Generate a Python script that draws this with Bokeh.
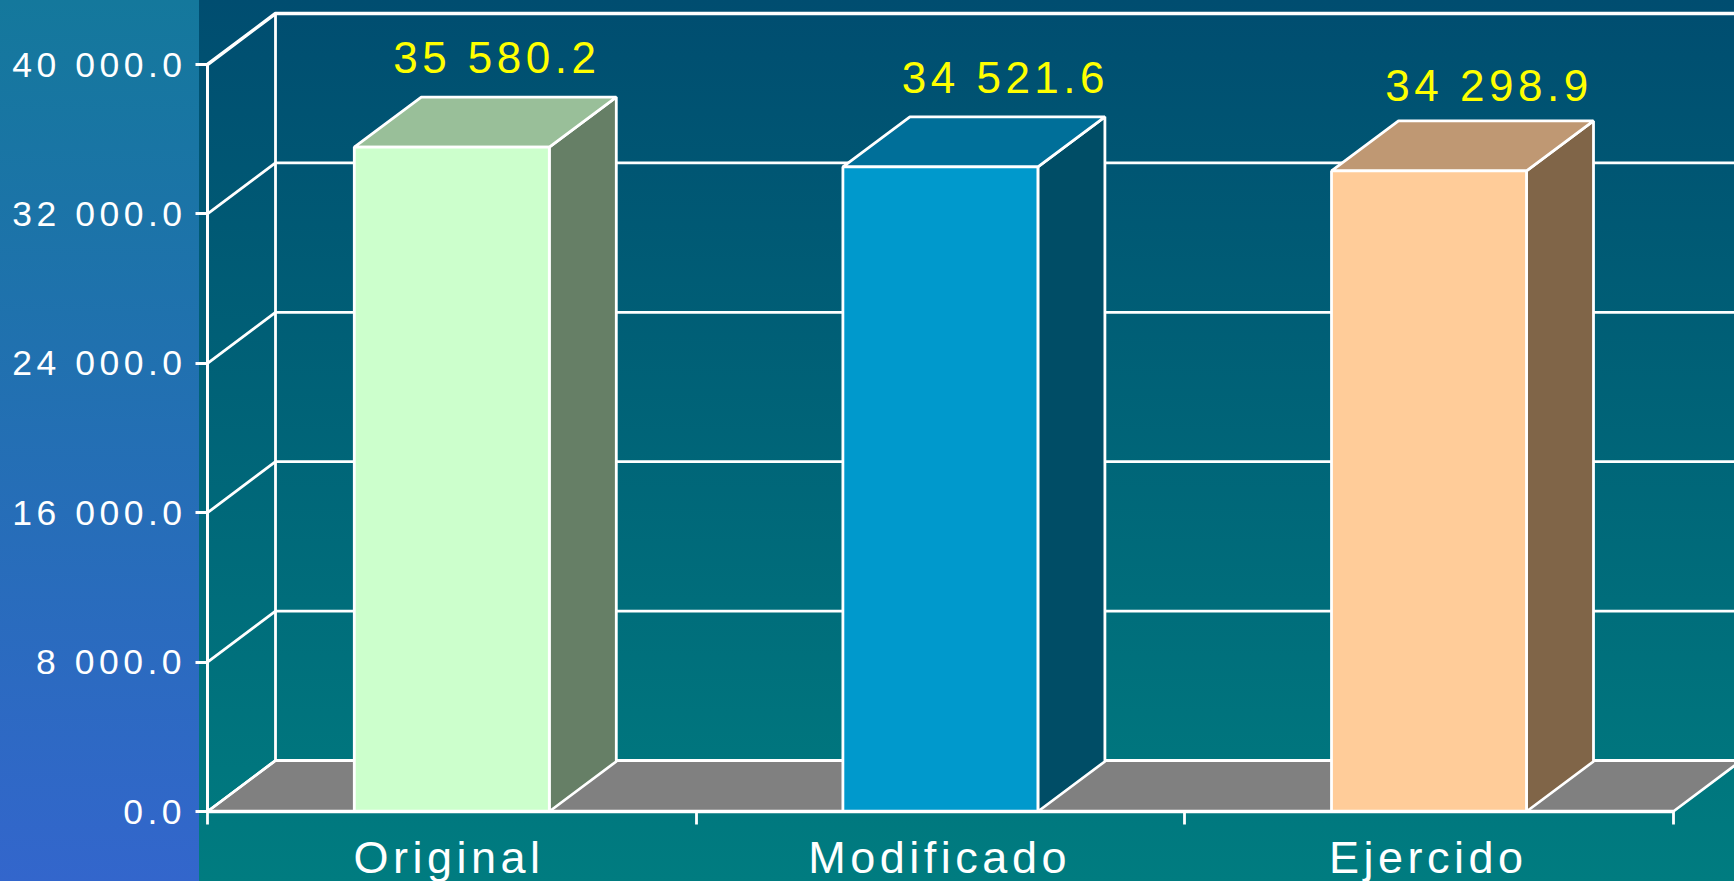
from bokeh.plotting import figure
from bokeh.models import LinearAxis, FixedTicker, Range1d
from bokeh.core.properties import value
from bokeh.embed import file_html
from bokeh.resources import INLINE

categories = ["Original", "Modificado", "Ejercido"]
amounts = [35580.2, 34521.6, 34298.9]
label_texts = ["35 580.2", "34 521.6", "34 298.9"]
y_ticks = [0, 8000, 16000, 24000, 32000, 40000]
y_tick_labels = ["0.0", "8 000.0", "16 000.0", "24 000.0", "32 000.0", "40 000.0"]
front_colors = ["#ccffcc", "#0099cc", "#ffcc99"]
top_colors = ["#99bf99", "#006f99", "#bf9873"]
side_colors = ["#667f66", "#004d66", "#806548"]

W, H = 1734, 881
X0, XU = 207.0, 488.6
Y0, YU = 811.0, 747.0 / 40000
FONT = "Liberation Sans"
SPACING = 4.5  # letter spacing, px; the browser adds it after the text is measured

p = figure(width=W, height=H, output_backend="svg", toolbar_location=None,
           x_axis_type=None, y_axis_type=None, min_border=0,
           x_range=Range1d(-X0 / XU, (W - X0) / XU),
           y_range=Range1d((Y0 - H) / YU, Y0 / YU))
p.grid.visible = False
p.outline_line_color = None
p.background_fill_alpha = 0
p.border_fill_alpha = 0
p.styles = {
    "letter-spacing": f"{SPACING}px",
    "background": "linear-gradient(#14789c,#3366cc) 0 0/199px 100% no-repeat,"
                  "linear-gradient(#004d70,#007c80)",
}

# depth of the box, in axis units
wall_dx = 68.0 / XU
wall_dy = 51.0 / YU
bar_dx = 67.0 / XU
bar_dy = 50.0 / YU
bar_half = 97.5 / XU
top_value = y_ticks[-1]
n = len(categories)
LW = 2.8

# floor
p.patch([0, wall_dx, n + wall_dx, n], [0, wall_dy, wall_dy, 0],
        fill_color="#808080", line_color="white", line_width=LW)

# walls
for t in y_ticks:
    w = 3.5 if t == top_value else LW
    p.line([0, wall_dx, n + wall_dx], [t, t + wall_dy, t + wall_dy],
           line_color="white", line_width=w)
p.line([wall_dx, wall_dx], [wall_dy, top_value + wall_dy], line_color="white", line_width=LW)

# bars
for i, v in enumerate(amounts):
    c = i + 0.5
    l, r = c - bar_half, c + bar_half
    p.patch([r, r + bar_dx, r + bar_dx, r], [0, bar_dy, v + bar_dy, v],
            fill_color=side_colors[i], line_color="white", line_width=LW)
    p.patch([l, r, r + bar_dx, l + bar_dx], [v, v, v + bar_dy, v + bar_dy],
            fill_color=top_colors[i], line_color="white", line_width=LW)
    p.quad(left=[l], right=[r], bottom=[0], top=[v],
           fill_color=front_colors[i], line_color="white", line_width=LW)

label_dx = [27, 47, 42]
label_dy = [40, 39, 35]
p.text(x=[i + 0.5 + label_dx[i] / XU for i in range(n)],
       y=[v + bar_dy + label_dy[i] / YU for i, v in enumerate(amounts)],
       text=label_texts, text_color="#ffff00", text_font=value(FONT),
       text_font_size="44px", text_align="center", text_baseline="middle")

# value axes: one per label length, since each needs its own standoff
for k, length in enumerate(sorted({len(s) for s in y_tick_labels})):
    pairs = [(t, s) for t, s in zip(y_ticks, y_tick_labels) if len(s) == length]
    ya = LinearAxis(ticker=FixedTicker(ticks=[t for t, _ in pairs]), fixed_location=0,
                    major_label_overrides=dict(pairs), bounds=(0, top_value))
    ya.axis_line_color = "white"
    ya.axis_line_width = LW
    ya.major_tick_line_color = "white"
    ya.major_tick_line_width = LW
    ya.major_tick_out = 12
    ya.major_tick_in = 0
    ya.minor_tick_line_color = None
    ya.major_label_standoff = 14 + int((length - 1) * SPACING)
    ya.major_label_text_color = "white"
    ya.major_label_text_font = FONT
    ya.major_label_text_font_size = "35.5px"
    p.add_layout(ya, "left")

# category axis: boundary ticks as minor ticks, labels on shifted major ticks
cat_nudge = [-5, -3, -3]
cat_pos = [i + 0.5 + (cat_nudge[i] - (len(c) - 1) * SPACING / 2) / XU
           for i, c in enumerate(categories)]
xa = LinearAxis(ticker=FixedTicker(ticks=cat_pos, minor_ticks=list(range(n + 1))),
                fixed_location=0,
                major_label_overrides=dict(zip(cat_pos, categories)),
                bounds=(0, n))
xa.axis_line_color = "white"
xa.axis_line_width = 3.5
xa.major_tick_line_color = None
xa.minor_tick_line_color = "white"
xa.minor_tick_line_width = LW
xa.minor_tick_out = 13
xa.minor_tick_in = 0
xa.major_label_standoff = 7
xa.major_label_text_color = "white"
xa.major_label_text_font = FONT
xa.major_label_text_font_size = "45px"
p.add_layout(xa, "below")

open("out.html", "w").write(file_html(p, INLINE))
